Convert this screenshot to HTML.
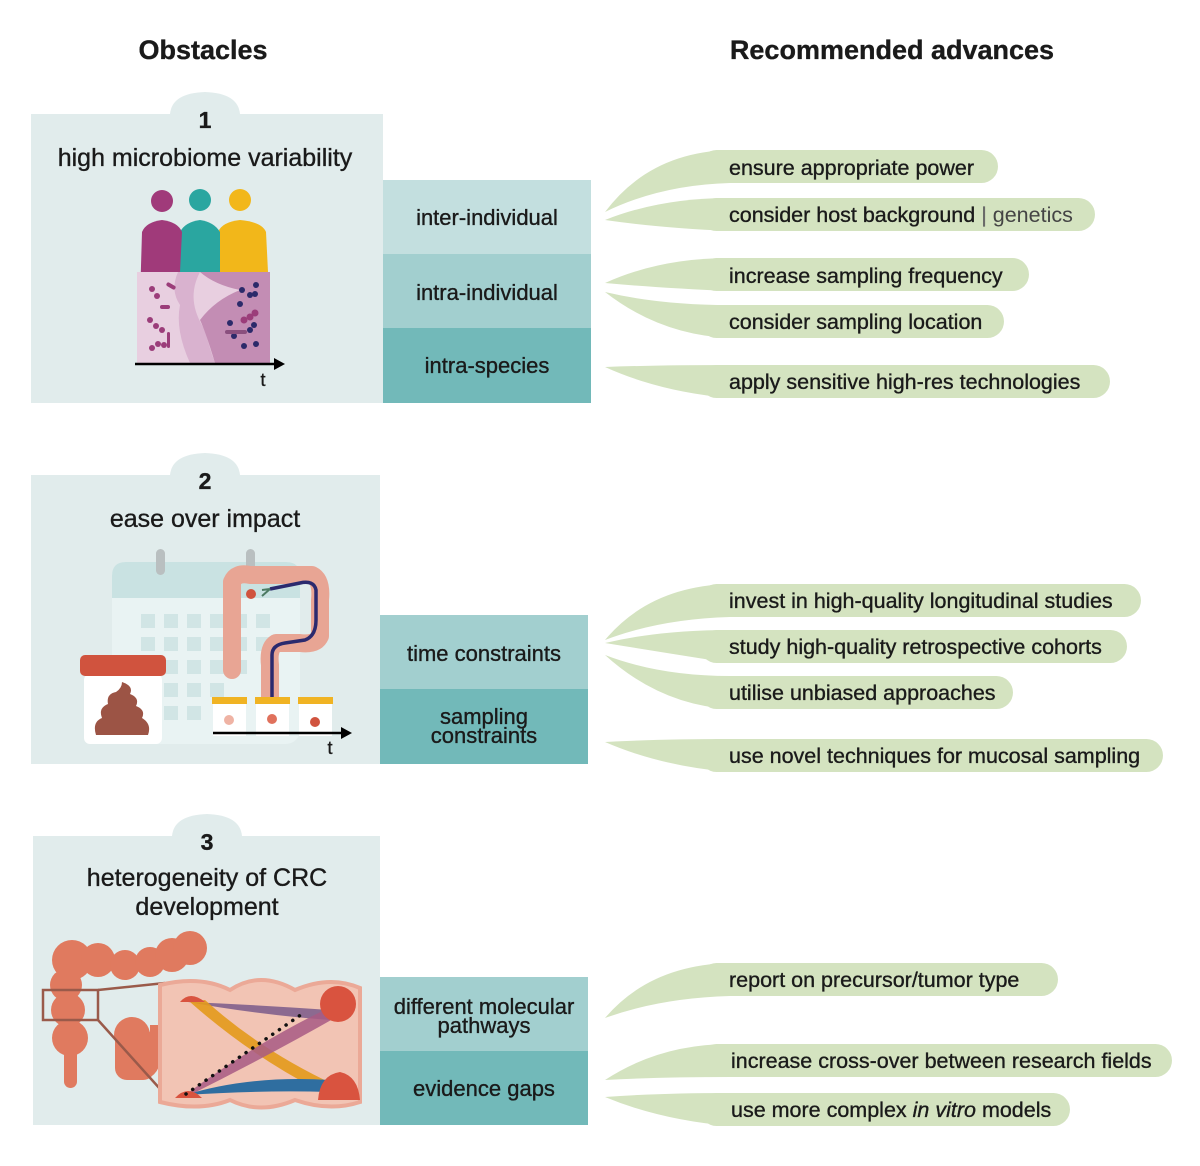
<!DOCTYPE html>
<html><head><meta charset="utf-8"><style>
html,body{margin:0;padding:0;background:#fff}
svg{display:block}
text{font-family:"Liberation Sans",Arial,sans-serif;fill:#1a1a1a;stroke:#1a1a1a;stroke-width:0.35}
</style></head><body>
<svg width="1200" height="1166" viewBox="0 0 1200 1166" xmlns="http://www.w3.org/2000/svg">
<!-- headers -->
<text x="203" y="59" font-size="27" font-weight="bold" text-anchor="middle">Obstacles</text>
<text x="892" y="59" font-size="27" font-weight="bold" text-anchor="middle">Recommended advances</text>

<!-- PANEL 1 -->
<rect x="31" y="114" width="352" height="289" fill="#e1ecec"/>
<path d="M170,114 Q172,93 205,92 Q238,93 240,114 Z" fill="#e1ecec"/>
<text x="205" y="128" font-size="23" font-weight="bold" text-anchor="middle">1</text>
<text x="205" y="166" font-size="25" text-anchor="middle">high microbiome variability</text>
<!-- people -->
<g>
<circle cx="240" cy="200" r="11" fill="#f2b71a"/>
<path d="M218,272 L218,232 Q222,222 240,220 Q262,222 266,232 L268,272 Z" fill="#f2b71a"/>
<circle cx="200" cy="200" r="11" fill="#2aa6a0"/>
<path d="M174,272 L180,232 Q185,222 200,220 Q214,222 220,232 L220,272 Z" fill="#2aa6a0"/>
<circle cx="162" cy="201" r="11" fill="#a03a7a"/>
<path d="M140,300 L142,232 Q146,222 162,220 Q178,222 182,232 L180,272 L142,300 Z" fill="#a03a7a"/>
</g>
<rect x="137" y="272" width="133" height="91" fill="#e8cfe0"/>
<path d="M178,272 L200,272 Q185,300 205,330 Q210,350 215,363 L190,363 Q175,330 180,305 Q170,290 178,272Z" fill="#d9b2cf"/>
<path d="M200,272 L270,272 L270,363 L215,363 Q205,330 200,320 Q215,300 240,290 Q215,285 200,272Z" fill="#c38db4"/>
<g fill="#9b3d7a">
<circle cx="152" cy="289" r="3"/><circle cx="157" cy="296" r="3"/><circle cx="150" cy="320" r="3"/><circle cx="156" cy="326" r="3"/><circle cx="162" cy="330" r="3"/><circle cx="152" cy="348" r="3"/><circle cx="158" cy="344" r="3"/><circle cx="164" cy="345" r="3"/>
<rect x="166" y="284" width="10" height="4" rx="2" transform="rotate(30 171 286)"/>
<rect x="160" y="305" width="10" height="4" rx="2"/><rect x="167" y="332" width="3" height="16" rx="1.5"/>
<circle cx="244" cy="320" r="3.5"/><circle cx="250" cy="317" r="3.5"/><circle cx="255" cy="313" r="3.5"/>
</g>
<g fill="#2c2a6a">
<circle cx="242" cy="290" r="3"/><circle cx="250" cy="295" r="3"/><circle cx="255" cy="294" r="3"/><circle cx="256" cy="285" r="3"/><circle cx="240" cy="304" r="3"/><circle cx="230" cy="323" r="3"/><circle cx="234" cy="336" r="3"/><circle cx="244" cy="346" r="3"/><circle cx="250" cy="330" r="3"/><circle cx="254" cy="325" r="3"/><circle cx="256" cy="344" r="3"/>
</g>
<rect x="225" y="330" width="22" height="4" rx="2" fill="#8a4f7e"/>
<line x1="135" y1="364" x2="276" y2="364" stroke="#000" stroke-width="2.5"/>
<path d="M285,364 L274,358 L274,370 Z" fill="#000"/>
<text x="263" y="386" font-size="18" text-anchor="middle" stroke-width="0">t</text>

<rect x="383" y="180" width="208" height="74" fill="#c3dfdf"/>
<rect x="383" y="254" width="208" height="74" fill="#a2cfcf"/>
<rect x="383" y="328" width="208" height="75" fill="#72b9b9"/>
<text x="487" y="225" font-size="22" text-anchor="middle">inter-individual</text>
<text x="487" y="300" font-size="22" text-anchor="middle">intra-individual</text>
<text x="487" y="373" font-size="22" text-anchor="middle">intra-species</text>

<!-- PANEL 2 -->
<rect x="31" y="475" width="349" height="289" fill="#e1ecec"/>
<path d="M170,475 Q172,454 205,453 Q238,454 240,475 Z" fill="#e1ecec"/>
<text x="205" y="489" font-size="23" font-weight="bold" text-anchor="middle">2</text>
<text x="205" y="527" font-size="25" text-anchor="middle">ease over impact</text>
<!-- calendar -->
<rect x="112" y="562" width="188" height="182" rx="14" fill="#e9f3f3"/>
<path d="M112,598 L112,576 Q112,562 126,562 L286,562 Q300,562 300,576 L300,598 Z" fill="#c9e2e2"/>
<rect x="156" y="549" width="9" height="26" rx="4.5" fill="#b9bfc0"/>
<rect x="246" y="549" width="9" height="26" rx="4.5" fill="#b9bfc0"/>
<g fill="#d1e5e5">
<rect x="141" y="614" width="14" height="14"/><rect x="164" y="614" width="14" height="14"/><rect x="187" y="614" width="14" height="14"/><rect x="210" y="614" width="14" height="14"/><rect x="233" y="614" width="14" height="14"/><rect x="256" y="614" width="14" height="14"/>
<rect x="141" y="637" width="14" height="14"/><rect x="164" y="637" width="14" height="14"/><rect x="187" y="637" width="14" height="14"/><rect x="210" y="637" width="14" height="14"/><rect x="233" y="637" width="14" height="14"/><rect x="256" y="637" width="14" height="14"/>
<rect x="164" y="660" width="14" height="14"/><rect x="187" y="660" width="14" height="14"/><rect x="210" y="660" width="14" height="14"/><rect x="233" y="660" width="14" height="14"/>
<rect x="164" y="683" width="14" height="14"/><rect x="187" y="683" width="14" height="14"/><rect x="210" y="683" width="14" height="14"/>
<rect x="164" y="706" width="14" height="14"/><rect x="187" y="706" width="14" height="14"/>
</g>
<!-- stool container -->
<rect x="84" y="674" width="78" height="70" rx="6" fill="#fff"/>
<rect x="80" y="655" width="86" height="21" rx="5" fill="#d0533e"/>
<path d="M96,735 Q92,722 102,718 Q98,708 108,704 Q106,694 116,692 Q122,688 122,682 Q134,686 130,694 Q140,698 136,706 Q146,710 142,718 Q152,724 148,735 Z" fill="#9c5445"/>
<!-- colon -->
<path d="M232,670 L232,582 Q236,572 250,575 L312,575 Q322,580 320,600 L320,636 Q316,645 300,643 L276,643 Q268,648 270,665 L270,700" fill="none" stroke="#e8a594" stroke-width="18" stroke-linejoin="round" stroke-linecap="round"/>
<path d="M272,698 L272,655 Q272,645 285,643 L305,640 Q316,636 316,620 L316,590 Q314,580 300,583 L270,589" fill="none" stroke="#2b2a6e" stroke-width="3.5"/>
<path d="M262,590 L270,589 M262,596 L270,589" stroke="#4c7a62" stroke-width="2"/>
<circle cx="251" cy="594" r="5" fill="#d0533e"/>
<!-- tubes -->
<g>
<rect x="213" y="702" width="33" height="34" fill="#fff"/><rect x="212" y="697" width="35" height="7" fill="#f0b323"/><circle cx="229" cy="720" r="5" fill="#efb3a4"/>
<rect x="256" y="702" width="33" height="34" fill="#fff"/><rect x="255" y="697" width="35" height="7" fill="#f0b323"/><circle cx="272" cy="719" r="5" fill="#e0715c"/>
<rect x="299" y="702" width="33" height="34" fill="#fff"/><rect x="298" y="697" width="35" height="7" fill="#f0b323"/><circle cx="315" cy="722" r="5" fill="#d0533e"/>
</g>
<line x1="213" y1="733" x2="342" y2="733" stroke="#000" stroke-width="2.5"/>
<path d="M352,733 L341,727 L341,739 Z" fill="#000"/>
<text x="330" y="754" font-size="18" text-anchor="middle" stroke-width="0">t</text>

<rect x="380" y="615" width="208" height="74" fill="#a2cfcf"/>
<rect x="380" y="689" width="208" height="75" fill="#72b9b9"/>
<text x="484" y="661" font-size="22" text-anchor="middle">time constraints</text>
<text x="484" y="724" font-size="22" text-anchor="middle">sampling</text>
<text x="484" y="743" font-size="22" text-anchor="middle">constraints</text>

<!-- PANEL 3 -->
<rect x="33" y="836" width="347" height="289" fill="#e1ecec"/>
<path d="M172,836 Q174,815 207,814 Q240,815 242,836 Z" fill="#e1ecec"/>
<text x="207" y="850" font-size="23" font-weight="bold" text-anchor="middle">3</text>
<text x="207" y="886" font-size="25" text-anchor="middle">heterogeneity of CRC</text>
<text x="207" y="915" font-size="25" text-anchor="middle">development</text>
<!-- colon -->
<g fill="#e07a5f">
<circle cx="72" cy="960" r="20"/><circle cx="98" cy="960" r="17"/><circle cx="125" cy="965" r="15"/><circle cx="150" cy="962" r="15"/><circle cx="172" cy="955" r="17"/><circle cx="190" cy="948" r="17"/>
<circle cx="66" cy="985" r="16"/><circle cx="68" cy="1010" r="17"/><circle cx="70" cy="1038" r="18"/>
<rect x="64" y="1040" width="13" height="48" rx="6.5"/>
<circle cx="132" cy="1035" r="18"/><circle cx="140" cy="1060" r="20"/><rect x="115" y="1030" width="40" height="50" rx="12"/>
<rect x="150" y="1025" width="15" height="30"/>
</g>
<rect x="43" y="990" width="55" height="30" fill="none" stroke="#9a5a4a" stroke-width="2.5"/>
<line x1="98" y1="990" x2="165" y2="983" stroke="#9a5a4a" stroke-width="2.5"/>
<line x1="98" y1="1020" x2="170" y2="1100" stroke="#9a5a4a" stroke-width="2.5"/>
<!-- zoom region -->
<path d="M160,985 Q200,975 230,990 Q260,970 295,990 Q330,975 360,988 L360,1102 Q330,1112 295,1100 Q260,1115 230,1100 Q200,1112 160,1102 Z" fill="#f2c4b4" stroke="#eba997" stroke-width="4"/>
<path d="M188,1002 Q260,1005 330,1010 L330,1020 Q260,1015 188,1002Z" fill="#7a5a8a" opacity="0.85"/>
<path d="M190,1002 L205,1000 Q260,1050 335,1085 L318,1090 Q250,1055 190,1002Z" fill="#e39a1b" opacity="0.9"/>
<path d="M185,1095 Q260,1040 335,1005 L340,1015 Q270,1055 190,1095Z" fill="#a85a84" opacity="0.85"/>
<path d="M185,1095 Q250,1075 330,1080 L330,1092 Q260,1090 185,1095Z" fill="#2f6ea0"/>
<path d="M180,1002 Q190,990 205,1002 Z" fill="#d9533f"/>
<path d="M175,1098 Q188,1084 202,1098 Z" fill="#d9533f"/>
<circle cx="338" cy="1004" r="18" fill="#d9533f"/>
<path d="M318,1100 Q320,1075 340,1072 Q358,1076 360,1100 Z" fill="#d9533f"/>
<line x1="186" y1="1094" x2="305" y2="1012" stroke="#111" stroke-width="3.5" stroke-dasharray="0.1 8" stroke-linecap="round"/>

<rect x="380" y="977" width="208" height="74" fill="#a2cfcf"/>
<rect x="380" y="1051" width="208" height="74" fill="#72b9b9"/>
<text x="484" y="1014" font-size="22" text-anchor="middle">different molecular</text>
<text x="484" y="1033" font-size="22" text-anchor="middle">pathways</text>
<text x="484" y="1096" font-size="22" text-anchor="middle">evidence gaps</text>

<!-- bubbles -->
<g fill="#d4e3c0">
<path d="M605,212 Q650,152 730,150 L730,183 Q660,185 605,212Z"/><rect x="700" y="150" width="298" height="33" rx="16.5"/>
<path d="M605,220 Q660,198 730,198 L730,231 Q660,228 605,220Z"/><rect x="700" y="198" width="395" height="33" rx="16.5"/>
<path d="M605,283 Q660,258 730,258 L730,291 Q660,288 605,283Z"/><rect x="700" y="258" width="329" height="33" rx="16.5"/>
<path d="M605,292 Q660,305 730,305 L730,338 Q660,335 605,292Z"/><rect x="700" y="305" width="304" height="33" rx="16.5"/>
<path d="M605,367 Q660,365 730,365 L730,398 Q660,392 605,367Z"/><rect x="700" y="365" width="410" height="33" rx="16.5"/>

<path d="M605,640 Q650,586 730,584 L730,617 Q660,619 605,640Z"/><rect x="700" y="584" width="441" height="33" rx="16.5"/>
<path d="M605,643 Q660,630 730,630 L730,663 Q660,652 605,643Z"/><rect x="700" y="630" width="427" height="33" rx="16.5"/>
<path d="M605,655 Q660,676 730,676 L730,709 Q660,705 605,655Z"/><rect x="700" y="676" width="313" height="33" rx="16.5"/>
<path d="M605,742 Q660,739 730,739 L730,772 Q660,766 605,742Z"/><rect x="700" y="739" width="463" height="33" rx="16.5"/>

<path d="M605,1018 Q650,965 730,963 L730,996 Q660,998 605,1018Z"/><rect x="700" y="963" width="358" height="33" rx="16.5"/>
<path d="M605,1080 Q660,1044 730,1044 L730,1077 Q660,1077 605,1080Z"/><rect x="700" y="1044" width="472" height="33" rx="16.5"/>
<path d="M605,1097 Q660,1093 730,1093 L730,1126 Q660,1120 605,1097Z"/><rect x="700" y="1093" width="370" height="33" rx="16.5"/>
</g>
<g font-size="21.5">
<text x="729" y="175">ensure appropriate power</text>
<text x="729" y="222">consider host background <tspan fill="#666" stroke="#666">|</tspan> <tspan fill="#444" stroke-width="0">genetics</tspan></text>
<text x="729" y="283">increase sampling frequency</text>
<text x="729" y="329">consider sampling location</text>
<text x="729" y="389">apply sensitive high-res technologies</text>
<text x="729" y="608">invest in high-quality longitudinal studies</text>
<text x="729" y="654">study high-quality retrospective cohorts</text>
<text x="729" y="700">utilise unbiased approaches</text>
<text x="729" y="763">use novel techniques for mucosal sampling</text>
<text x="729" y="987">report on precursor/tumor type</text>
<text x="731" y="1068">increase cross-over between research fields</text>
<text x="731" y="1117">use more complex <tspan font-style="italic">in vitro</tspan> models</text>
</g>
</svg>
</body></html>
